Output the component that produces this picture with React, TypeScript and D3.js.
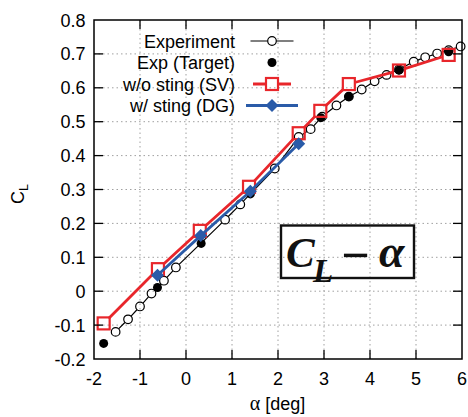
import React from "react";
import * as d3 from "d3";

const W = 468;
const H = 417;
const PL = 94, PR = 462, PT = 20, PB = 359;

const xTicks = [-2, -1, 0, 1, 2, 3, 4, 5, 6];
const xTickLabels = ["-2", "-1", "0", "1", "2", "3", "4", "5", "6"];
const yTicks = [-0.2, -0.1, 0, 0.1, 0.2, 0.3, 0.4, 0.5, 0.6, 0.7, 0.8];
const yTickLabels = ["-0.2", "-0.1", "0", "0.1", "0.2", "0.3", "0.4", "0.5", "0.6", "0.7", "0.8"];

const expAlpha = [-1.53, -1.26, -1.0, -0.75, -0.48, -0.22, 0.85, 1.18, 1.93, 2.45, 2.71, 2.96, 3.27, 3.54, 3.82, 4.1, 4.36, 4.63, 4.95, 5.2, 5.46, 5.71, 5.97];
const expCL = [-0.12, -0.083, -0.045, -0.007, 0.031, 0.07, 0.211, 0.256, 0.362, 0.455, 0.478, 0.515, 0.548, 0.574, 0.595, 0.619, 0.638, 0.654, 0.677, 0.69, 0.701, 0.711, 0.722];

const targetAlpha = [-1.79, -0.62, 0.33, 1.4, 2.93, 3.54, 4.63, 5.71];
const targetCL = [-0.154, 0.011, 0.141, 0.287, 0.512, 0.574, 0.652, 0.706];

const svAlpha = [-1.79, -0.61, 0.3, 1.37, 2.45, 2.92, 3.54, 4.63, 5.71];
const svCL = [-0.095, 0.065, 0.178, 0.308, 0.466, 0.532, 0.611, 0.651, 0.697];

const dgAlpha = [-0.62, 0.32, 1.4, 2.45];
const dgCL = [0.047, 0.164, 0.295, 0.435];

const legendLabels = ["Experiment", "Exp (Target)", "w/o sting (SV)", "w/ sting (DG)"];

const RED = "#e8262b";
const BLUE = "#2a5ba8";
const FONT = "'Liberation Sans', Arial, Helvetica, sans-serif";

const x = d3.scaleLinear().domain([-2, 6]).range([PL, PR]);
const y = d3.scaleLinear().domain([-0.2, 0.8]).range([PB, PT]);

function trimmedSegments(pts: [number, number][], gap: number): string {
  const line = d3.line();
  const out: string[] = [];
  for (let i = 0; i < pts.length - 1; i++) {
    const [x0, y0] = pts[i];
    const [x1, y1] = pts[i + 1];
    const dx = x1 - x0, dy = y1 - y0;
    const len = Math.hypot(dx, dy);
    if (len <= 2 * gap) continue;
    const ux = dx / len, uy = dy / len;
    out.push(line([[x0 + ux * gap, y0 + uy * gap], [x1 - ux * gap, y1 - uy * gap]]) || "");
  }
  return out.join("");
}

export default function App() {
  const expPts = expAlpha.map((a, i) => [x(a), y(expCL[i])] as [number, number]);
  const tgtPts = targetAlpha.map((a, i) => [x(a), y(targetCL[i])] as [number, number]);
  const svPts = svAlpha.map((a, i) => [x(a), y(svCL[i])] as [number, number]);
  const dgPts = dgAlpha.map((a, i) => [x(a), y(dgCL[i])] as [number, number]);
  const line = d3.line();

  const legendY = [41, 62.5, 84, 105.5];
  const lx0 = 246, lx1 = 298, lxm = 272;
  const sq = 12;
  const dm = 6.5;

  const diamond = (cx: number, cy: number) =>
    `M${cx},${cy - dm}L${cx + dm},${cy}L${cx},${cy + dm}L${cx - dm},${cy}Z`;

  return (
    <svg width={W} height={H} style={{ position: "absolute", left: 0, top: 0, background: "#fff" }} fontFamily={FONT}>
      <rect x={0} y={0} width={W} height={H} fill="#fff" />
      {/* grid */}
      <g stroke="#a0a0a0" strokeWidth={1} strokeDasharray="1.5,3">
        {xTicks.slice(1, -1).map((t) => (
          <line key={"gx" + t} x1={x(t)} x2={x(t)} y1={PT} y2={PB} />
        ))}
        {yTicks.slice(1, -1).map((t) => (
          <line key={"gy" + t} x1={PL} x2={PR} y1={y(t)} y2={y(t)} />
        ))}
      </g>

      {/* Experiment */}
      <path d={trimmedSegments(expPts, 4.5)} stroke="#000" strokeWidth={1.2} fill="none" />
      {expPts.map(([px, py], i) => (
        <circle key={"e" + i} cx={px} cy={py} r={4.3} fill="none" stroke="#000" strokeWidth={1.2} />
      ))}

      {/* Target */}
      {tgtPts.map(([px, py], i) => (
        <circle key={"t" + i} cx={px} cy={py} r={4.5} fill="#000" />
      ))}

      {/* SV */}
      <path d={trimmedSegments(svPts, 7)} stroke={RED} strokeWidth={2.8} fill="none" />
      {svPts.map(([px, py], i) => (
        <rect key={"s" + i} x={px - sq / 2} y={py - sq / 2} width={sq} height={sq} fill="none" stroke={RED} strokeWidth={2.2} />
      ))}

      {/* DG */}
      <path d={line(dgPts) || ""} stroke={BLUE} strokeWidth={2.8} fill="none" />
      {dgPts.map(([px, py], i) => (
        <path key={"d" + i} d={diamond(px, py)} fill={BLUE} />
      ))}

      {/* Annotation box */}
      <rect x={281} y={225.5} width={133} height={52.5} fill="none" stroke="#111" strokeWidth={2.4} />
      <g fontFamily="'Liberation Serif', 'DejaVu Serif', serif" fontWeight="bold" fontStyle="italic" fill="#111">
        <text x={286} y={267} fontSize={43}>C</text>
        <text x={313} y={282} fontSize={33}>L</text>
        <text x={355.5} y={272} fontSize={50} textAnchor="middle" fontStyle="normal">−</text>
        <text x={379} y={267} fontSize={46}>α</text>
      </g>

      {/* border and ticks */}
      <rect x={PL} y={PT} width={PR - PL} height={PB - PT} fill="none" stroke="#000" strokeWidth={1.5} />
      <g stroke="#000" strokeWidth={1.3}>
        {xTicks.slice(1, -1).map((t) => (
          <g key={"tx" + t}>
            <line x1={x(t)} x2={x(t)} y1={PB} y2={PB - 9} />
            <line x1={x(t)} x2={x(t)} y1={PT} y2={PT + 9} />
          </g>
        ))}
        {yTicks.slice(1, -1).map((t) => (
          <g key={"ty" + t}>
            <line x1={PL} x2={PL + 9} y1={y(t)} y2={y(t)} />
            <line x1={PR} x2={PR - 9} y1={y(t)} y2={y(t)} />
          </g>
        ))}
      </g>

      {/* tick labels */}
      <g fontSize={18} fill="#000">
        {xTicks.map((t, i) => (
          <text key={"lx" + t} x={x(t)} y={384.5} textAnchor="middle">{xTickLabels[i]}</text>
        ))}
        {yTicks.map((t, i) => (
          <text key={"ly" + t} x={85.5} y={y(t) + 6.5} textAnchor="end">{yTickLabels[i]}</text>
        ))}
      </g>

      {/* axis labels */}
      <text x={277.5} y={410} fontSize={18} textAnchor="middle">
        <tspan fontFamily="'Liberation Serif', serif" fontSize={20}>α</tspan>
        <tspan> [deg]</tspan>
      </text>
      <text transform="translate(24,194) rotate(-90)" fontSize={18} textAnchor="middle">
        C<tspan fontSize={12.5} dy={4}>L</tspan>
      </text>

      {/* legend */}
      <g fontSize={18} fill="#000">
        {legendLabels.map((s, i) => (
          <text key={"lg" + i} x={235} y={legendY[i] + 6.5} textAnchor="end">{s}</text>
        ))}
      </g>
      <path d={trimmedSegments([[lx0, legendY[0]], [lxm, legendY[0]], [lx1, legendY[0]]], 4.5)} stroke="#000" strokeWidth={1.2} fill="none" />
      <circle cx={lxm} cy={legendY[0]} r={4.3} fill="none" stroke="#000" strokeWidth={1.2} />
      <circle cx={lxm} cy={legendY[1]} r={4.5} fill="#000" />
      <path d={trimmedSegments([[lx0, legendY[2]], [lxm, legendY[2]], [lx1, legendY[2]]], 7)} stroke={RED} strokeWidth={2.8} fill="none" />
      <rect x={lxm - sq / 2} y={legendY[2] - sq / 2} width={sq} height={sq} fill="none" stroke={RED} strokeWidth={2.2} />
      <path d={line([[lx0, legendY[3]], [lx1, legendY[3]]]) || ""} stroke={BLUE} strokeWidth={2.8} fill="none" />
      <path d={diamond(lxm, legendY[3])} fill={BLUE} />
    </svg>
  );
}
